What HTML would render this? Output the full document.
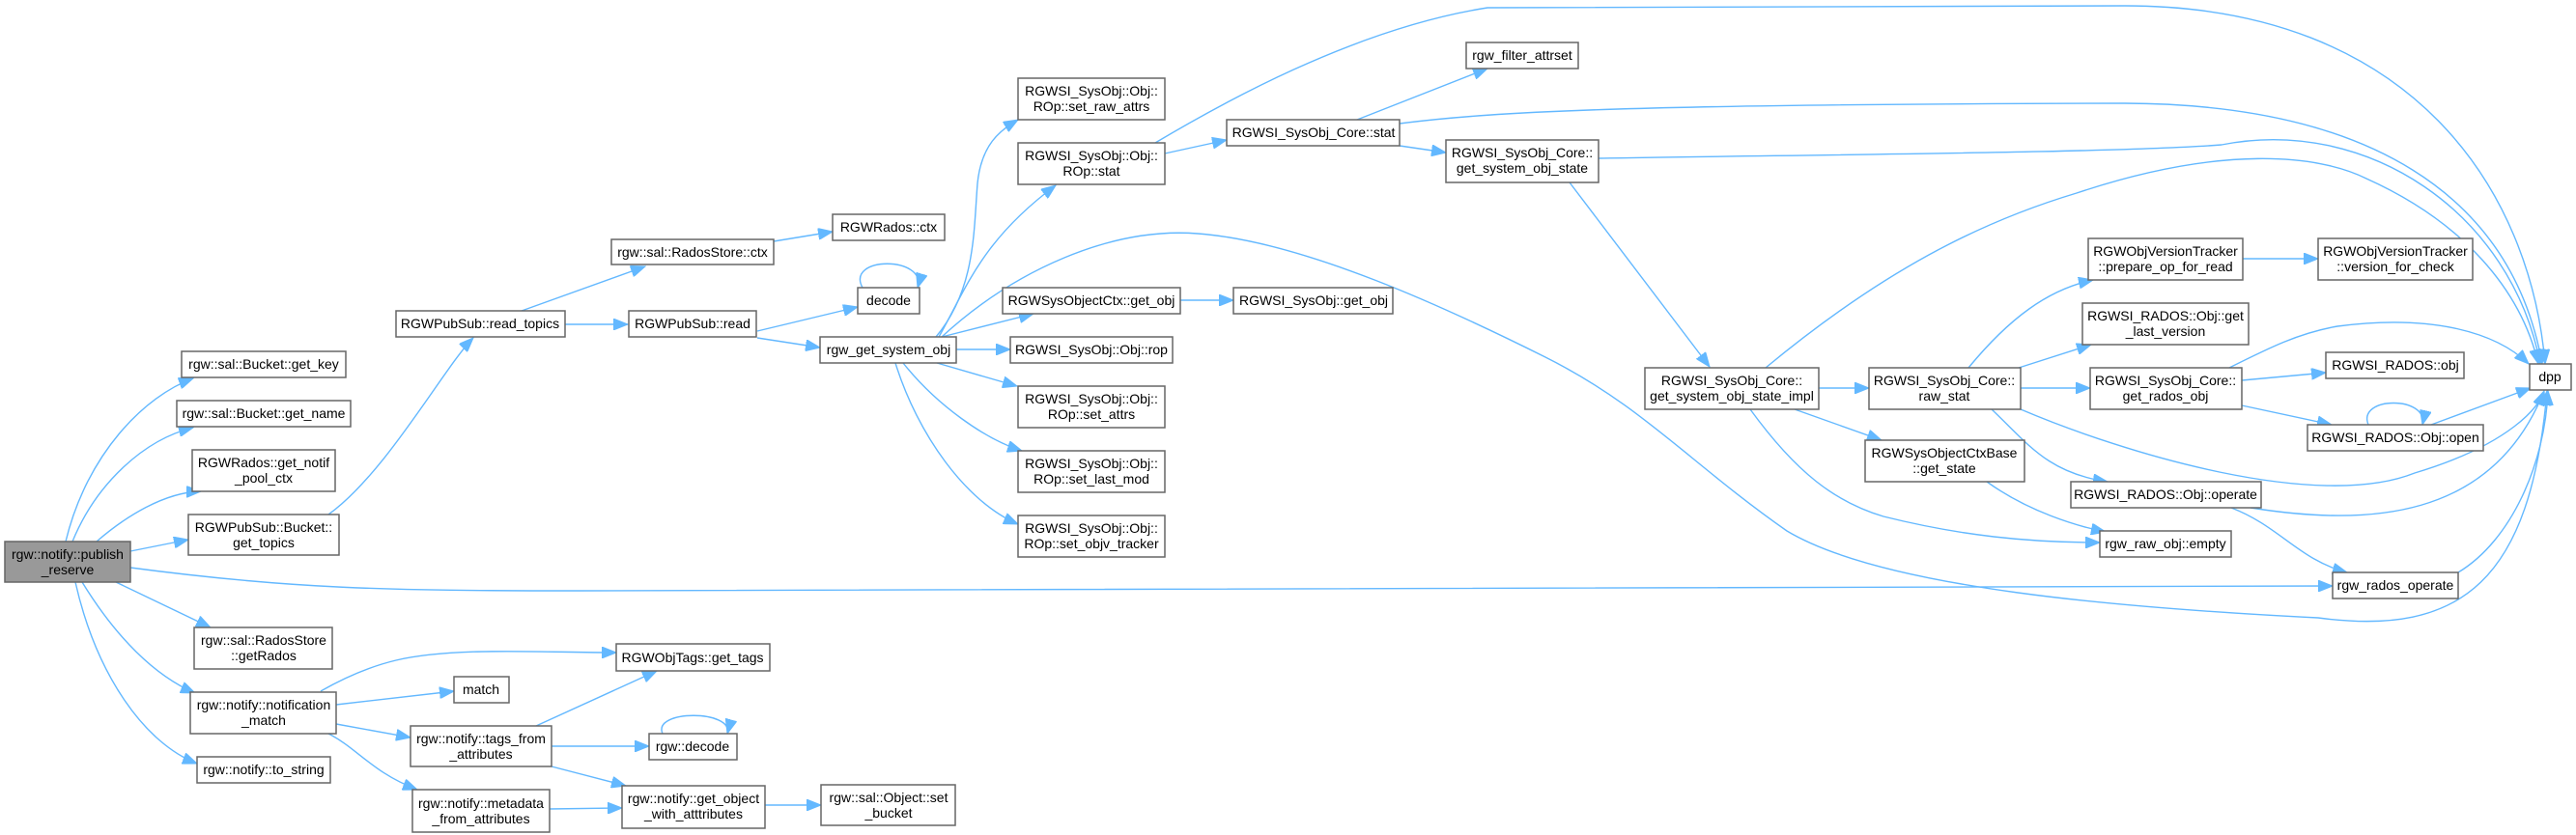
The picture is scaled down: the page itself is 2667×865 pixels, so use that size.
<!DOCTYPE html>
<html><head><meta charset="utf-8"><style>
html,body{margin:0;padding:0;background:#fff;}
svg{display:block;}
text{font-family:"Liberation Sans",Arial,sans-serif;font-size:14px;fill:#000;text-anchor:middle;}
.e{fill:none;stroke:#63b8ff;stroke-width:1.4;marker-end:url(#a);}
.n{fill:#fff;stroke:#666;stroke-width:1.5;}
</style></head><body>
<svg width="2667" height="865" viewBox="0 0 2667 865" xmlns="http://www.w3.org/2000/svg">
<defs><marker id="a" markerUnits="userSpaceOnUse" markerWidth="16" markerHeight="12" refX="15" refY="6" orient="auto"><path d="M0,0 L15,6 L0,12 Z" fill="#63b8ff" stroke="#63b8ff"/></marker></defs>

<!-- edges -->
<path class="e" d="M68,561 C90,470 150,410 200,392"/>
<path class="e" d="M75,561 C100,500 150,455 200,443"/>
<path class="e" d="M100,561 C130,535 170,510 208,509"/>
<path class="e" d="M135,571 L195,559"/>
<path class="e" d="M135,588 C300,610 400,612 600,612 L2415,607"/>
<path class="e" d="M120,603 L218,650"/>
<path class="e" d="M85,603 C120,660 160,700 202,718"/>
<path class="e" d="M78,603 C100,700 150,770 204,791"/>
<path class="e" d="M340,533 C400,490 460,380 490,350"/>
<path class="e" d="M540,322 L668,276"/>
<path class="e" d="M585,336 L650,336"/>
<path class="e" d="M801,250 L862,240"/>
<path class="e" d="M784,343 L888,318"/>
<path class="e" d="M893,298 C875,265 960,265 950,298"/>
<path class="e" d="M784,350 L849,360"/>
<path class="e" d="M969,349 C1010,300 1008,240 1012,190 C1016,150 1035,135 1054,124"/>
<path class="e" d="M972,349 C1000,300 1015,250 1093,192"/>
<path class="e" d="M975,349 C1050,280 1150,235 1240,242 C1350,250 1500,320 1600,370 C1700,420 1750,480 1850,550 C1950,610 2200,630 2400,640 C2550,660 2620,600 2637,405"/>
<path class="e" d="M975,349 L1070,325"/>
<path class="e" d="M990,362 L1046,362"/>
<path class="e" d="M970,376 L1053,400"/>
<path class="e" d="M935,376 C970,420 1020,455 1058,467"/>
<path class="e" d="M927,376 C950,450 1000,520 1054,543"/>
<path class="e" d="M1222,311 L1277,311"/>
<path class="e" d="M1206,159 L1270,145"/>
<path class="e" d="M1196,148 C1260,110 1400,30 1540,8 L2200,6 C2500,6 2620,200 2635,377"/>
<path class="e" d="M1405,124 L1540,71"/>
<path class="e" d="M1449,151 L1497,158"/>
<path class="e" d="M1449,128 C1550,115 1700,108 2200,107 C2450,108 2600,200 2632,377"/>
<path class="e" d="M1655,164 C1900,160 2200,158 2300,150 C2450,120 2600,220 2630,377"/>
<path class="e" d="M1625,189 L1770,380"/>
<path class="e" d="M1828,381 C1950,280 2050,230 2150,200 C2300,150 2400,160 2450,185 C2550,230 2610,300 2628,377"/>
<path class="e" d="M1883,402 L1935,402"/>
<path class="e" d="M1858,424 L1948,456"/>
<path class="e" d="M1812,424 C1860,490 1900,520 1950,535 C2030,555 2100,562 2174,562"/>
<path class="e" d="M2038,381 C2080,330 2120,300 2167,290"/>
<path class="e" d="M2090,381 L2165,357"/>
<path class="e" d="M2092,402 L2164,402"/>
<path class="e" d="M2092,424 C2200,470 2400,530 2500,490 C2600,460 2630,420 2634,405"/>
<path class="e" d="M2062,424 C2100,460 2120,490 2182,499"/>
<path class="e" d="M2322,268 L2400,268"/>
<path class="e" d="M2308,381 C2350,360 2380,345 2420,338 C2520,325 2585,345 2618,377"/>
<path class="e" d="M2321,394 L2408,386"/>
<path class="e" d="M2321,420 L2414,440"/>
<path class="e" d="M2452,440 C2440,410 2515,410 2508,440"/>
<path class="e" d="M2517,440 L2620,402"/>
<path class="e" d="M2057,499 C2100,530 2150,545 2180,551"/>
<path class="e" d="M2330,526 C2450,545 2580,540 2634,405"/>
<path class="e" d="M2310,526 C2360,545 2380,580 2430,593"/>
<path class="e" d="M2545,593 C2600,560 2635,480 2638,405"/>
<path class="e" d="M332,716 C360,700 385,690 410,684 C470,670 560,676 638,676"/>
<path class="e" d="M348,730 L470,716"/>
<path class="e" d="M348,750 L425,764"/>
<path class="e" d="M340,760 C370,775 385,800 432,818"/>
<path class="e" d="M555,752 L680,695"/>
<path class="e" d="M571,773 L672,773"/>
<path class="e" d="M571,794 L648,814"/>
<path class="e" d="M686,760 C675,735 760,735 753,760"/>
<path class="e" d="M569,838 L644,837"/>
<path class="e" d="M792,834 L850,834"/>

<!-- nodes -->
<rect x="5" y="561" width="130" height="42" fill="#999" stroke="#666" stroke-width="1.5"/>
<text x="70" y="579">rgw::notify::publish</text><text x="70" y="595">_reserve</text>

<rect class="n" x="188" y="364" width="170" height="27"/><text x="273" y="382">rgw::sal::Bucket::get_key</text>
<rect class="n" x="183" y="415" width="180" height="27"/><text x="273" y="433">rgw::sal::Bucket::get_name</text>
<rect class="n" x="199" y="466" width="148" height="43"/><text x="273" y="484">RGWRados::get_notif</text><text x="273" y="500">_pool_ctx</text>
<rect class="n" x="195" y="533" width="156" height="42"/><text x="273" y="551">RGWPubSub::Bucket::</text><text x="273" y="567">get_topics</text>
<rect class="n" x="201" y="650" width="143" height="43"/><text x="273" y="668">rgw::sal::RadosStore</text><text x="273" y="684">::getRados</text>
<rect class="n" x="197" y="717" width="151" height="43"/><text x="273" y="735">rgw::notify::notification</text><text x="273" y="751">_match</text>
<rect class="n" x="204" y="784" width="138" height="27"/><text x="273" y="802">rgw::notify::to_string</text>

<rect class="n" x="410" y="322" width="175" height="27"/><text x="497" y="340">RGWPubSub::read_topics</text>
<rect class="n" x="633" y="248" width="168" height="26"/><text x="717" y="266">rgw::sal::RadosStore::ctx</text>
<rect class="n" x="651" y="322" width="132" height="27"/><text x="717" y="340">RGWPubSub::read</text>
<rect class="n" x="862" y="222" width="116" height="27"/><text x="920" y="240">RGWRados::ctx</text>
<rect class="n" x="888" y="298" width="64" height="27"/><text x="920" y="316">decode</text>
<rect class="n" x="849" y="349" width="141" height="27"/><text x="920" y="367">rgw_get_system_obj</text>

<rect class="n" x="638" y="667" width="159" height="28"/><text x="717" y="686">RGWObjTags::get_tags</text>
<rect class="n" x="470" y="701" width="57" height="27"/><text x="498" y="719">match</text>
<rect class="n" x="425" y="752" width="146" height="42"/><text x="498" y="770">rgw::notify::tags_from</text><text x="498" y="786">_attributes</text>
<rect class="n" x="672" y="760" width="91" height="27"/><text x="717" y="778">rgw::decode</text>
<rect class="n" x="427" y="818" width="142" height="44"/><text x="498" y="837">rgw::notify::metadata</text><text x="498" y="853">_from_attributes</text>
<rect class="n" x="644" y="814" width="148" height="44"/><text x="718" y="832">rgw::notify::get_object</text><text x="718" y="848">_with_atttributes</text>
<rect class="n" x="850" y="813" width="139" height="42"/><text x="920" y="831">rgw::sal::Object::set</text><text x="920" y="847">_bucket</text>

<rect class="n" x="1054" y="81" width="152" height="43"/><text x="1130" y="99">RGWSI_SysObj::Obj::</text><text x="1130" y="115">ROp::set_raw_attrs</text>
<rect class="n" x="1054" y="148" width="152" height="43"/><text x="1130" y="166">RGWSI_SysObj::Obj::</text><text x="1130" y="182">ROp::stat</text>
<rect class="n" x="1038" y="298" width="184" height="27"/><text x="1130" y="316">RGWSysObjectCtx::get_obj</text>
<rect class="n" x="1046" y="349" width="168" height="27"/><text x="1130" y="367">RGWSI_SysObj::Obj::rop</text>
<rect class="n" x="1054" y="400" width="152" height="43"/><text x="1130" y="418">RGWSI_SysObj::Obj::</text><text x="1130" y="434">ROp::set_attrs</text>
<rect class="n" x="1054" y="467" width="152" height="43"/><text x="1130" y="485">RGWSI_SysObj::Obj::</text><text x="1130" y="501">ROp::set_last_mod</text>
<rect class="n" x="1054" y="534" width="152" height="43"/><text x="1130" y="552">RGWSI_SysObj::Obj::</text><text x="1130" y="568">ROp::set_objv_tracker</text>

<rect class="n" x="1277" y="298" width="165" height="27"/><text x="1360" y="316">RGWSI_SysObj::get_obj</text>
<rect class="n" x="1270" y="124" width="179" height="27"/><text x="1360" y="142">RGWSI_SysObj_Core::stat</text>
<rect class="n" x="1518" y="44" width="116" height="27"/><text x="1576" y="62">rgw_filter_attrset</text>
<rect class="n" x="1497" y="145" width="158" height="44"/><text x="1576" y="163">RGWSI_SysObj_Core::</text><text x="1576" y="179">get_system_obj_state</text>

<rect class="n" x="1703" y="381" width="180" height="43"/><text x="1793" y="399">RGWSI_SysObj_Core::</text><text x="1793" y="415">get_system_obj_state_impl</text>
<rect class="n" x="1935" y="381" width="157" height="43"/><text x="2013" y="399">RGWSI_SysObj_Core::</text><text x="2013" y="415">raw_stat</text>
<rect class="n" x="1931" y="456" width="165" height="43"/><text x="2013" y="474">RGWSysObjectCtxBase</text><text x="2013" y="490">::get_state</text>

<rect class="n" x="2162" y="247" width="160" height="43"/><text x="2242" y="265">RGWObjVersionTracker</text><text x="2242" y="281">::prepare_op_for_read</text>
<rect class="n" x="2156" y="314" width="172" height="43"/><text x="2242" y="332">RGWSI_RADOS::Obj::get</text><text x="2242" y="348">_last_version</text>
<rect class="n" x="2164" y="381" width="157" height="43"/><text x="2242" y="399">RGWSI_SysObj_Core::</text><text x="2242" y="415">get_rados_obj</text>
<rect class="n" x="2144" y="499" width="197" height="27"/><text x="2242" y="517">RGWSI_RADOS::Obj::operate</text>
<rect class="n" x="2174" y="550" width="136" height="27"/><text x="2242" y="568">rgw_raw_obj::empty</text>

<rect class="n" x="2400" y="247" width="160" height="43"/><text x="2480" y="265">RGWObjVersionTracker</text><text x="2480" y="281">::version_for_check</text>
<rect class="n" x="2408" y="365" width="143" height="27"/><text x="2480" y="383">RGWSI_RADOS::obj</text>
<rect class="n" x="2389" y="440" width="182" height="27"/><text x="2480" y="458">RGWSI_RADOS::Obj::open</text>
<rect class="n" x="2415" y="593" width="130" height="27"/><text x="2480" y="611">rgw_rados_operate</text>
<rect class="n" x="2619" y="377" width="43" height="27"/><text x="2640" y="395">dpp</text>
</svg>
</body></html>
